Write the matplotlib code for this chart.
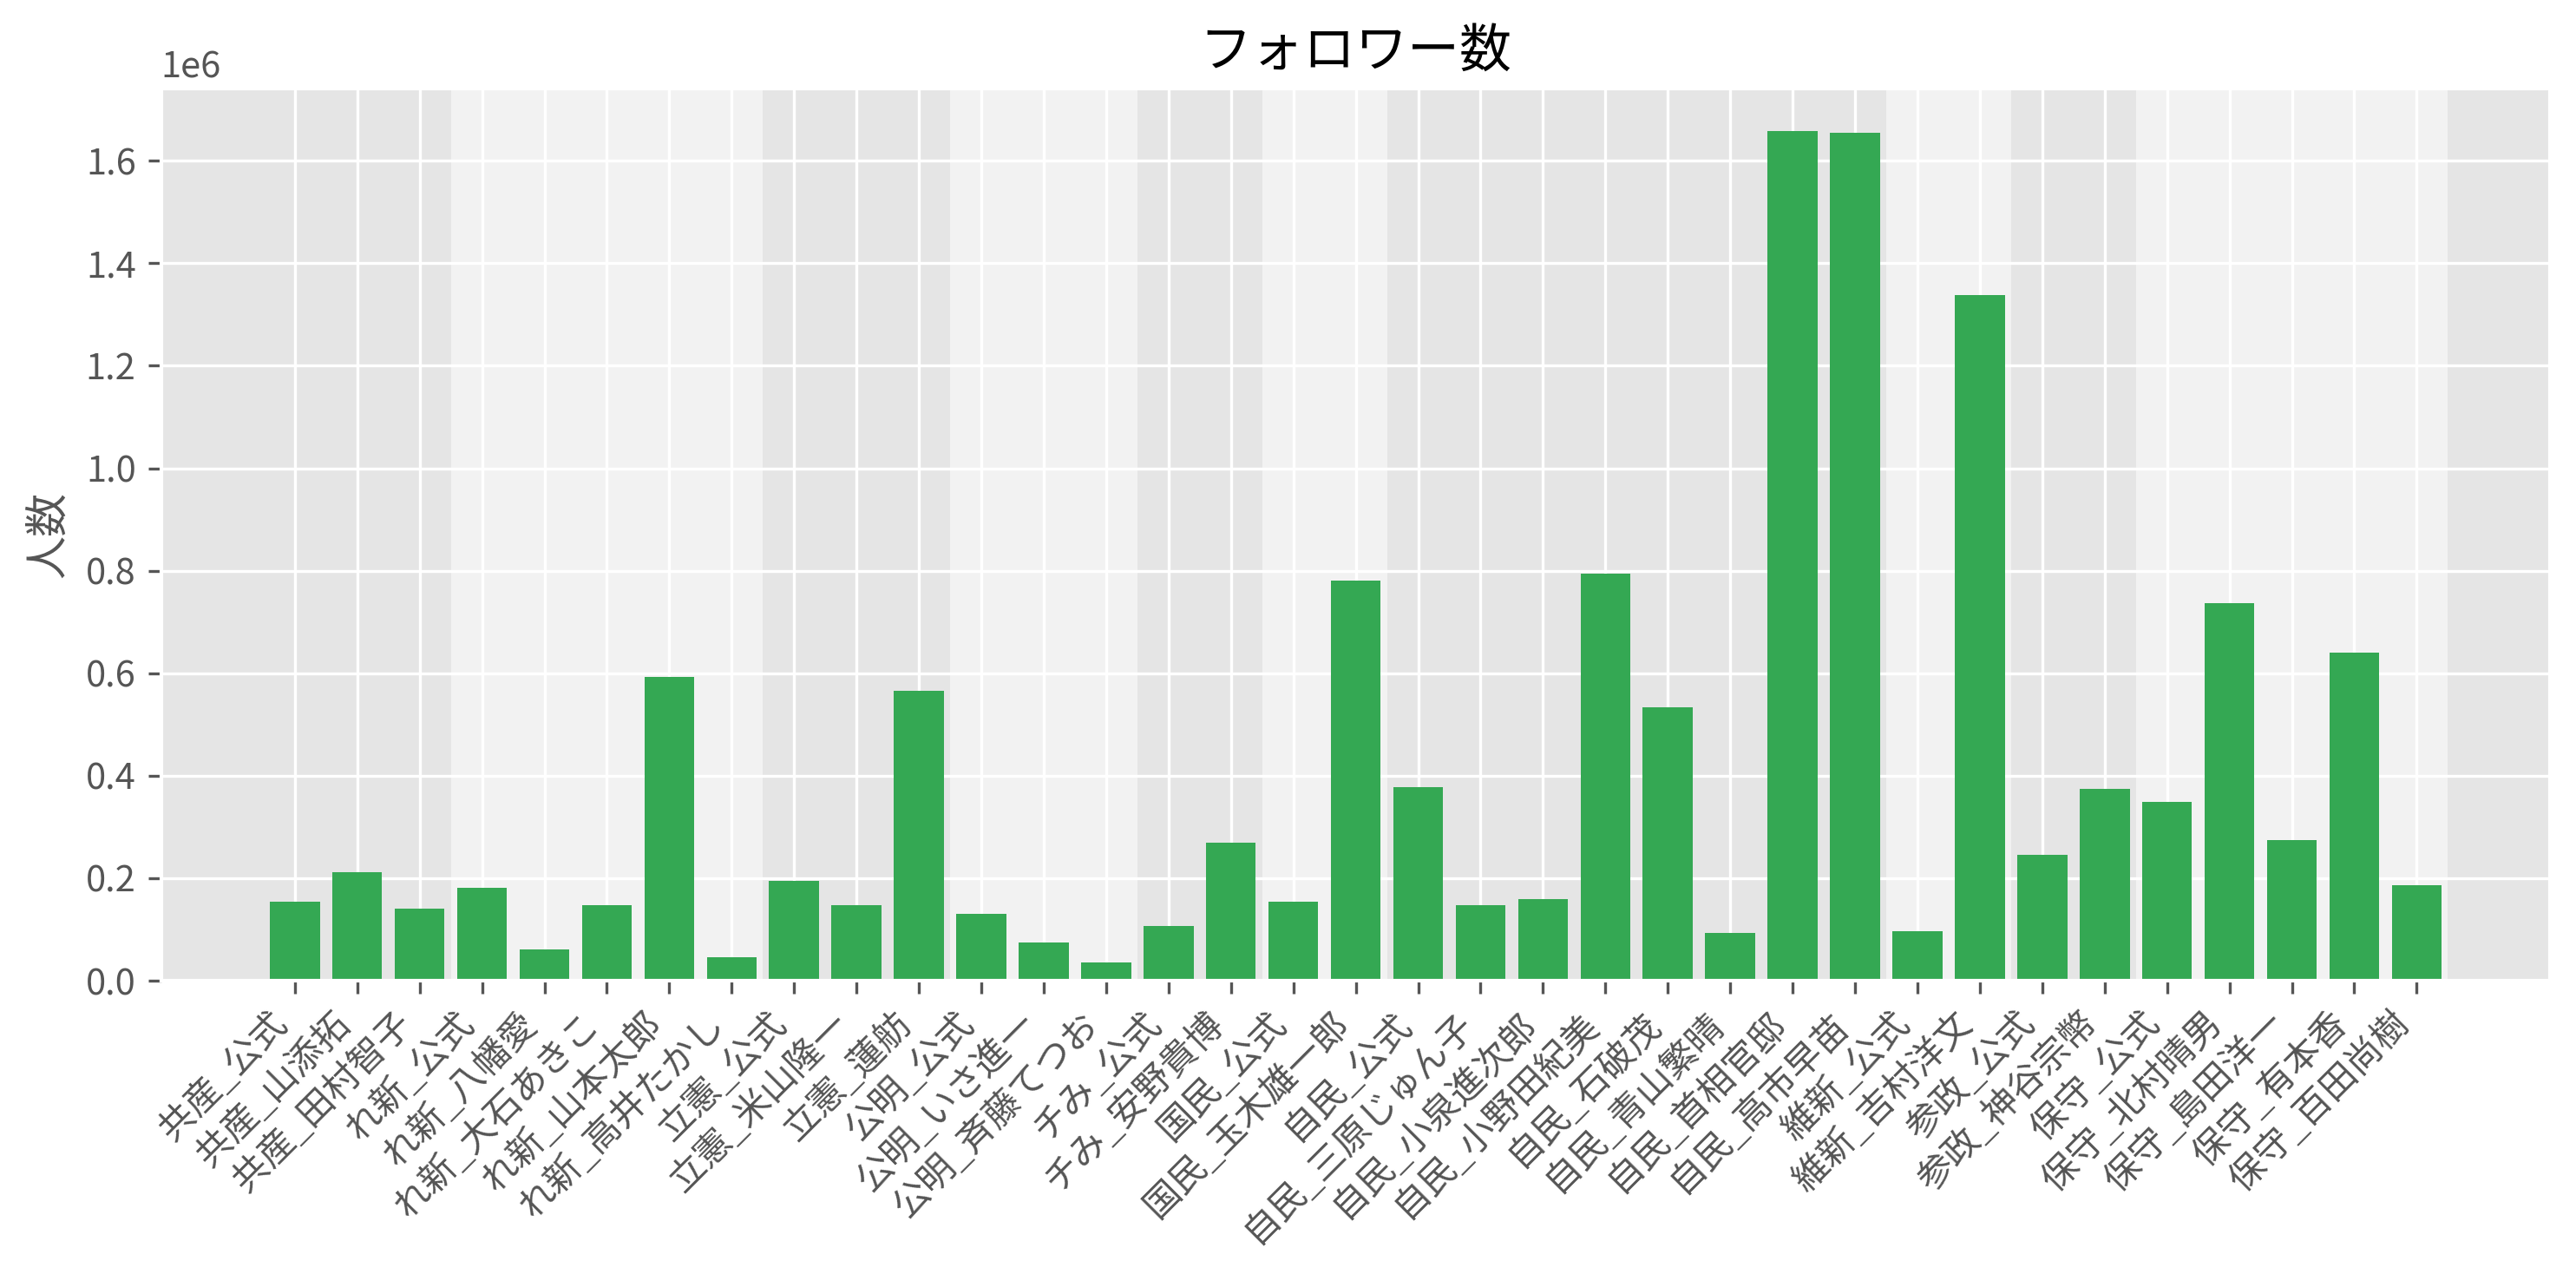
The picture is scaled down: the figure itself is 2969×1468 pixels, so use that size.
import numpy as np
import matplotlib
matplotlib.use("Agg")
import matplotlib.pyplot as plt

plt.style.use("ggplot")
plt.rcParams["font.family"] = ["Noto Sans CJK JP", "DejaVu Sans"]

# アカウント名
names = [
    "共産_公式", "共産_山添拓", "共産_田村智子",
    "れ新_公式", "れ新_八幡愛", "れ新_大石あきこ", "れ新_山本太郎", "れ新_高井たかし",
    "立憲_公式", "立憲_米山隆一", "立憲_蓮舫",
    "公明_公式", "公明_いさ進一", "公明_斉藤てつお",
    "チみ_公式", "チみ_安野貴博",
    "国民_公式", "国民_玉木雄一郎",
    "自民_公式", "自民_三原じゅん子", "自民_小泉進次郎", "自民_小野田紀美",
    "自民_石破茂", "自民_青山繁晴", "自民_首相官邸", "自民_高市早苗",
    "維新_公式", "維新_吉村洋文",
    "参政_公式", "参政_神谷宗幣",
    "保守_公式", "保守_北村晴男", "保守_島田洋一", "保守_有本香", "保守_百田尚樹",
]

# フォロワー数
followers = [
    154000, 211000, 141000,
    182000, 61000, 147000, 592000, 45000,
    195000, 147000, 566000,
    131000, 74000, 35000,
    106000, 269000,
    154000, 781000,
    378000, 147000, 160000, 794000,
    534000, 93000, 1658000, 1654000,
    96000, 1338000,
    246000, 374000,
    349000, 736000, 275000, 640000, 186000,
]

parties = [n.split("_")[0] for n in names]

fig = plt.figure(figsize=(2969 / 300, 1468 / 300), dpi=300)
ax = fig.add_subplot(111)
fig.subplots_adjust(left=0.0626, right=0.990, top=0.9305, bottom=0.2302)

x = np.arange(len(names))
ax.bar(x, followers, color="#34a853", zorder=2)

# 政党ごとに背景を交互に塗る
order = []
for p in parties:
    if p not in order:
        order.append(p)
for k, p in enumerate(order):
    idx = [i for i, q in enumerate(parties) if q == p]
    if k % 2 == 1:
        ax.axvspan(idx[0] - 0.5, idx[-1] + 0.5, color="white", alpha=0.5,
                   lw=0, zorder=1)

ax.set_xlim(-0.4 - 0.05 * 34.8, len(names) - 0.6 + 0.05 * 34.8)
ax.set_xticks(x)
ax.set_xticklabels(names, rotation=45, ha="right")
ax.set_title("フォロワー数", color="black")
ax.set_ylabel("人数")

fig.savefig("out.png", dpi=300)
